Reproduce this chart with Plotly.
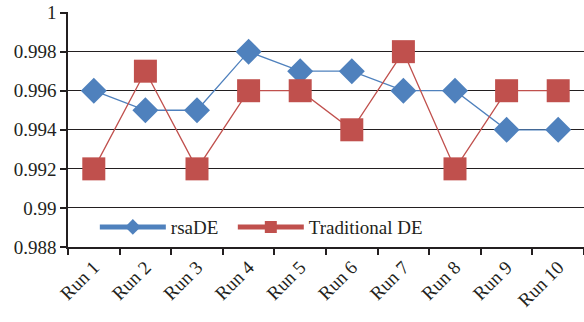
import plotly.graph_objects as go

runs = ["Run 1", "Run 2", "Run 3", "Run 4", "Run 5", "Run 6", "Run 7", "Run 8", "Run 9", "Run 10"]
rsade = [0.996, 0.995, 0.995, 0.998, 0.997, 0.997, 0.996, 0.996, 0.994, 0.994]
trad_de = [0.992, 0.997, 0.992, 0.996, 0.996, 0.994, 0.998, 0.992, 0.996, 0.996]
y_ticks = [0.988, 0.99, 0.992, 0.994, 0.996, 0.998, 1.0]
y_tick_text = ["0.988", "0.99", "0.992", "0.994", "0.996", "0.998", "1"]

blue = "#4F81BD"
red = "#C0504D"

fig = go.Figure()
fig.add_trace(go.Scatter(
    x=runs, y=rsade, name="rsaDE\u00a0\u00a0", mode="lines+markers",
    line=dict(color=blue, width=1.3),
    marker=dict(symbol="diamond", size=20, color=blue),
))
fig.add_trace(go.Scatter(
    x=runs, y=trad_de, name="Traditional DE", mode="lines+markers",
    line=dict(color=red, width=1.3),
    marker=dict(symbol="square", size=23, color=red),
))

font = dict(family="Liberation Serif, Times New Roman, serif", size=19, color="#231F20")

fig.update_layout(
    width=584, height=322,
    margin=dict(l=68, r=0, t=12, b=75, autoexpand=False),
    paper_bgcolor="white", plot_bgcolor="white",
    font=font,
    showlegend=True,
    legend=dict(
        orientation="h", x=0.052, y=0.085, xanchor="left", yanchor="middle",
        bgcolor="rgba(255,255,255,0)", font=font, itemsizing="constant",
        tracegroupgap=0, itemwidth=66,
    ),
    xaxis=dict(
        type="category", range=[-0.5, 9.5], tickangle=-45, automargin=False,
        showline=True, linecolor="#231F20", linewidth=1.5,
        ticks="outside", tickson="boundaries", ticklen=6, tickcolor="#231F20", tickwidth=1.5,
        showgrid=False, tickfont=font, ticklabeloverflow="allow",
    ),
    yaxis=dict(
        range=[0.988, 1.00003], tickvals=y_ticks, ticktext=y_tick_text, automargin=False,
        showline=True, linecolor="#231F20", linewidth=1.5,
        ticks="outside", ticklen=6, tickcolor="#231F20", tickwidth=1.5,
        showgrid=True, gridcolor="#231F20", gridwidth=1.2,
        zeroline=False, tickfont=font, ticklabeloverflow="allow",
    ),
)

fig.write_html("out.html", config={"displayModeBar": False},
               post_script="document.body.style.margin='0';")
